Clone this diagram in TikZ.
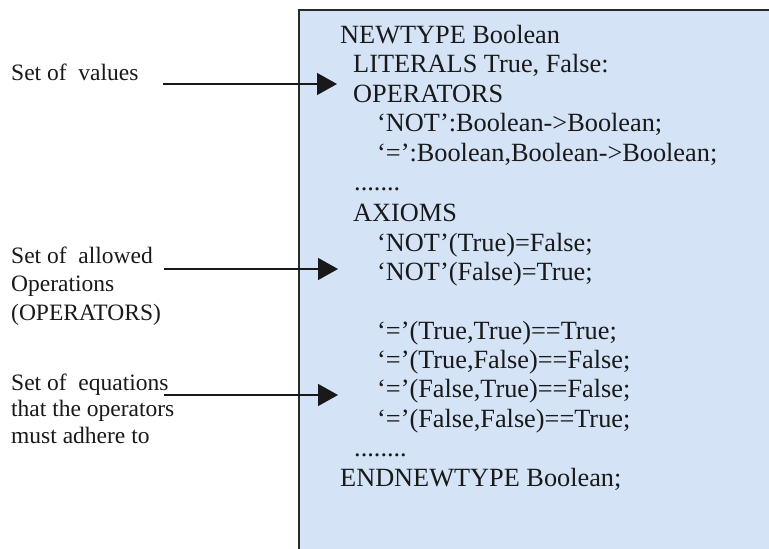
\documentclass[tikz,border=0pt]{standalone}
\usepackage{fontspec}
\setmainfont{Liberation Serif}
\usetikzlibrary{arrows.meta}
\definecolor{boxfill}{RGB}{213,227,247}
\definecolor{boxline}{RGB}{40,44,36}
\definecolor{ink}{RGB}{25,25,25}
\tikzset{
  code/.style={anchor=base west, inner sep=0pt, text=ink, font=\fontsize{26.3}{29.5}\selectfont},
  lbl/.style={anchor=base west, inner sep=0pt, text=ink, font=\fontsize{23.5}{28}\selectfont},
  pointer/.style={line width=1.4pt, draw=ink, -{Triangle[length=20pt,width=22pt]}}
}
\begin{document}
\begin{tikzpicture}[x=1pt,y=-1pt]
\useasboundingbox (0,0) rectangle (769,549);
\fill[white] (0,0) rectangle (769,549);
\draw[fill=boxfill, draw=boxline, line width=1.5pt] (299,10) rectangle (790,570);
% box text
\node[code] (l1)  at (340,43)    {NEWTYPE Boolean};
\node[code] (l2)  at (353,72.5)  {LITERALS True, False:};
\node[code] (l3)  at (353,102)   {OPERATORS};
\node[code] (l4)  at (377,131.5) {‘NOT’:Boolean->Boolean;};
\node[code] (l5)  at (377,161)   {‘=’:Boolean,Boolean->Boolean;};
\node[code] (l6)  at (354,190.5) {.......};
\node[code] (l7)  at (353,221)   {AXIOMS};
\node[code] (l8)  at (377,251)   {‘NOT’(True)=False;};
\node[code] (l9)  at (377,280.5) {‘NOT’(False)=True;};
\node[code] (l10) at (377,339)   {‘=’(True,True)==True;};
\node[code] (l11) at (377,368)   {‘=’(True,False)==False;};
\node[code] (l12) at (377,397.5) {‘=’(False,True)==False;};
\node[code] (l13) at (377,427)   {‘=’(False,False)==True;};
\node[code] (l14) at (354,456.5) {........};
\node[code] (l15) at (340,486)   {ENDNEWTYPE Boolean;};
% labels
\node[lbl] (v)  at (11,80)  {Set of\ \ values};
\node[lbl] (o1) at (11,263) {Set of\ \ allowed};
\node[lbl] (o2) at (11,291.5) {Operations};
\node[lbl] (o3) at (11,320) {(OPERATORS)};
\node[lbl] (e1) at (11,390) {Set of\ \ equations};
\node[lbl] (e2) at (11,416.5) {that the operators};
\node[lbl] (e3) at (11,443) {must adhere to};
% arrows
\coordinate (v0) at (163,84);  \coordinate (v1) at (337,84);
\coordinate (oa) at (164,269); \coordinate (ob) at (338,269);
\coordinate (ea) at (164,395); \coordinate (eb) at (338,395);
\draw[pointer] (v0) -- (v1);
\draw[pointer] (oa) -- (ob);
\draw[pointer] (ea) -- (eb);
\end{tikzpicture}
\end{document}
